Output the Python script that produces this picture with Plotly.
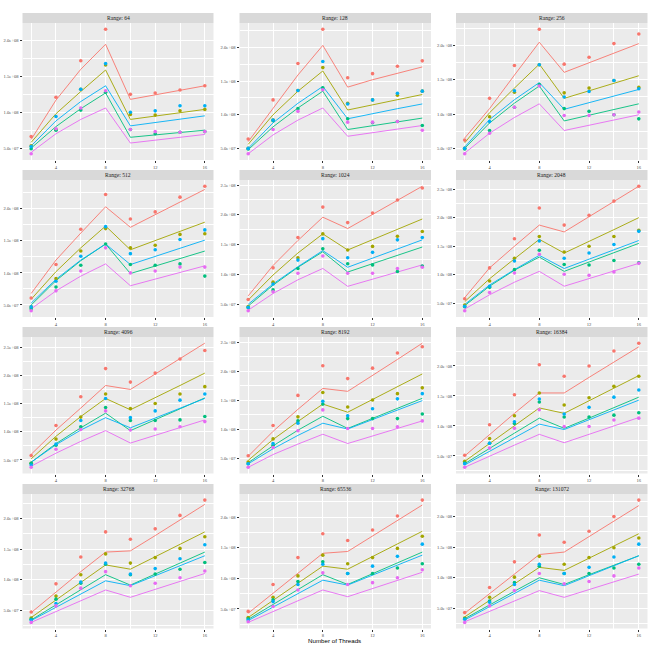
import math
import plotly.graph_objects as go

SCALE = 1e8
threads = [2, 4, 6, 8, 10, 12, 14, 16]
ranges = [64, 128, 256, 512, 1024, 2048, 4096, 8192, 16384, 32768, 65536, 131072]
series_names = ["Series 1", "Series 2", "Series 3", "Series 4", "Series 5"]
colors = ["#F8766D", "#A3A500", "#00BF7D", "#00B0F6", "#E76BF3"]
x_ticks = [4, 8, 12, 16]
x_title = "Number of Threads"

# observed values (units of 1e8), one row per Range panel
obs_red = [
    [0.66, 1.21, 1.72, 2.16, 1.25, 1.27, 1.31, 1.37],
    [0.64, 1.22, 1.76, 2.27, 1.55, 1.61, 1.72, 1.80],
    [0.62, 1.23, 1.71, 2.24, 1.73, 1.83, 2.03, 2.17],
    [0.61, 1.13, 1.68, 2.22, 1.84, 1.95, 2.18, 2.35],
    [0.58, 1.11, 1.62, 2.13, 1.87, 2.03, 2.25, 2.45],
    [0.58, 1.12, 1.63, 2.17, 1.87, 2.04, 2.29, 2.55],
    [0.58, 1.11, 1.62, 2.12, 1.88, 2.04, 2.29, 2.44],
    [0.54, 1.06, 1.58, 2.09, 1.87, 2.05, 2.31, 2.42],
    [0.51, 1.02, 1.52, 2.02, 1.83, 2.00, 2.25, 2.38],
    [0.47, 0.93, 1.37, 1.78, 1.66, 1.83, 2.05, 2.30],
    [0.46, 0.90, 1.34, 1.73, 1.62, 1.79, 2.02, 2.28],
    [0.43, 0.84, 1.26, 1.70, 1.58, 1.76, 2.00, 2.27],
]
obs_olive = [
    [0.53, 0.76, 1.32, 1.66, 0.97, 0.96, 1.02, 1.04],
    [0.50, 0.92, 1.36, 1.70, 1.17, 1.22, 1.29, 1.35],
    [0.50, 0.96, 1.32, 1.72, 1.31, 1.38, 1.49, 1.39],
    [0.47, 0.91, 1.34, 1.69, 1.39, 1.43, 1.60, 1.61],
    [0.46, 0.87, 1.28, 1.68, 1.41, 1.47, 1.64, 1.72],
    [0.47, 0.89, 1.29, 1.67, 1.40, 1.50, 1.67, 1.78],
    [0.44, 0.87, 1.26, 1.67, 1.41, 1.50, 1.67, 1.80],
    [0.43, 0.83, 1.21, 1.63, 1.38, 1.50, 1.61, 1.71],
    [0.41, 0.79, 1.17, 1.55, 1.35, 1.47, 1.66, 1.83],
    [0.37, 0.73, 1.08, 1.42, 1.27, 1.36, 1.51, 1.70],
    [0.36, 0.69, 1.04, 1.38, 1.24, 1.34, 1.49, 1.69],
    [0.34, 0.68, 1.01, 1.35, 1.22, 1.33, 1.49, 1.65],
]
obs_green = [
    [0.49, 0.75, 1.03, 1.28, 0.76, 0.70, 0.72, 0.73],
    [0.49, 0.91, 1.09, 1.40, 0.94, 0.88, 0.90, 0.84],
    [0.49, 0.76, 1.10, 1.43, 1.08, 1.04, 0.99, 0.93],
    [0.44, 0.78, 1.12, 1.45, 1.13, 1.12, 1.14, 0.95],
    [0.44, 0.74, 1.10, 1.43, 1.18, 1.16, 1.05, 1.14],
    [0.44, 0.78, 1.09, 1.43, 1.18, 1.17, 1.25, 1.21],
    [0.44, 0.76, 1.09, 1.43, 1.20, 1.20, 1.21, 1.27],
    [0.40, 0.72, 1.14, 1.43, 1.18, 1.18, 1.18, 1.26],
    [0.38, 0.71, 1.04, 1.40, 1.15, 1.15, 1.18, 1.22],
    [0.35, 0.68, 0.94, 1.25, 1.08, 1.09, 1.17, 1.28],
    [0.34, 0.65, 0.95, 1.27, 1.08, 1.08, 1.17, 1.24],
    [0.33, 0.62, 0.92, 1.19, 1.07, 1.07, 1.16, 1.22],
]
obs_blue = [
    [0.52, 0.94, 1.32, 1.68, 1.00, 1.02, 1.09, 1.09],
    [0.50, 0.92, 1.36, 1.79, 1.16, 1.22, 1.32, 1.35],
    [0.50, 0.89, 1.34, 1.72, 1.25, 1.33, 1.49, 1.37],
    [0.47, 0.87, 1.26, 1.72, 1.30, 1.36, 1.52, 1.67],
    [0.45, 0.84, 1.24, 1.60, 1.28, 1.37, 1.58, 1.62],
    [0.45, 0.80, 1.24, 1.59, 1.29, 1.38, 1.53, 1.76],
    [0.41, 0.78, 1.20, 1.59, 1.25, 1.37, 1.56, 1.67],
    [0.40, 0.75, 1.10, 1.48, 1.23, 1.35, 1.52, 1.61],
    [0.37, 0.71, 1.07, 1.45, 1.20, 1.31, 1.48, 1.60],
    [0.34, 0.61, 0.96, 1.27, 1.09, 1.18, 1.34, 1.57],
    [0.32, 0.62, 0.90, 1.23, 1.08, 1.20, 1.36, 1.56],
    [0.32, 0.60, 0.89, 1.22, 1.07, 1.17, 1.34, 1.55],
]
obs_magenta = [
    [0.42, 0.77, 1.06, 1.30, 0.76, 0.73, 0.72, 0.73],
    [0.42, 0.78, 1.05, 1.37, 0.89, 0.89, 0.90, 0.77],
    [0.42, 0.72, 1.10, 1.41, 0.98, 0.98, 0.99, 1.03],
    [0.41, 0.72, 1.03, 1.39, 1.00, 1.03, 1.09, 1.09],
    [0.39, 0.71, 1.02, 1.31, 1.02, 1.02, 1.10, 1.12],
    [0.37, 0.69, 1.03, 1.36, 1.01, 0.99, 1.05, 1.20],
    [0.37, 0.69, 1.04, 1.37, 1.03, 1.05, 1.09, 1.18],
    [0.34, 0.68, 0.97, 1.33, 1.01, 1.01, 1.04, 1.14],
    [0.31, 0.63, 0.96, 1.27, 0.99, 0.99, 1.10, 1.13],
    [0.30, 0.57, 0.86, 1.13, 0.90, 0.94, 1.03, 1.14],
    [0.29, 0.54, 0.81, 1.09, 0.90, 0.93, 1.01, 1.14],
    [0.27, 0.54, 0.79, 1.07, 0.90, 0.94, 1.03, 1.16],
]

# fitted values (units of 1e8)
fit_red = [
    [0.62, 1.17, 1.60, 1.95, 1.18, 1.24, 1.30, 1.37],
    [0.60, 1.10, 1.59, 2.03, 1.41, 1.52, 1.62, 1.71],
    [0.65, 1.08, 1.57, 2.05, 1.61, 1.75, 1.89, 2.03],
    [0.68, 1.20, 1.62, 2.03, 1.71, 1.91, 2.11, 2.30],
    [0.64, 1.15, 1.57, 1.96, 1.77, 2.01, 2.24, 2.48],
    [0.60, 1.12, 1.50, 1.87, 1.75, 2.02, 2.28, 2.55],
    [0.60, 1.03, 1.42, 1.82, 1.75, 2.02, 2.30, 2.57],
    [0.53, 0.96, 1.34, 1.70, 1.65, 1.92, 2.20, 2.48],
    [0.50, 0.86, 1.21, 1.55, 1.55, 1.81, 2.06, 2.32],
    [0.46, 0.80, 1.13, 1.45, 1.47, 1.72, 1.97, 2.23],
    [0.43, 0.76, 1.09, 1.41, 1.44, 1.69, 1.95, 2.20],
    [0.42, 0.74, 1.06, 1.38, 1.42, 1.67, 1.93, 2.18],
]
fit_olive = [
    [0.58, 0.98, 1.29, 1.59, 0.90, 0.95, 1.00, 1.04],
    [0.56, 1.00, 1.35, 1.65, 1.07, 1.15, 1.22, 1.30],
    [0.58, 1.02, 1.38, 1.73, 1.23, 1.34, 1.45, 1.56],
    [0.59, 1.02, 1.39, 1.73, 1.36, 1.50, 1.65, 1.79],
    [0.57, 0.99, 1.36, 1.68, 1.41, 1.58, 1.76, 1.93],
    [0.53, 0.93, 1.28, 1.62, 1.38, 1.58, 1.79, 2.00],
    [0.52, 0.92, 1.27, 1.59, 1.39, 1.60, 1.82, 2.04],
    [0.46, 0.82, 1.13, 1.43, 1.29, 1.51, 1.73, 1.95],
    [0.41, 0.71, 1.00, 1.30, 1.21, 1.42, 1.63, 1.84],
    [0.38, 0.67, 0.96, 1.24, 1.17, 1.37, 1.58, 1.78],
    [0.36, 0.64, 0.92, 1.20, 1.15, 1.36, 1.56, 1.77],
    [0.36, 0.63, 0.90, 1.17, 1.12, 1.32, 1.52, 1.72],
]
fit_green = [
    [0.50, 0.80, 1.05, 1.27, 0.65, 0.68, 0.72, 0.75],
    [0.48, 0.82, 1.10, 1.35, 0.78, 0.84, 0.89, 0.95],
    [0.50, 0.87, 1.16, 1.41, 0.90, 0.98, 1.07, 1.15],
    [0.50, 0.88, 1.19, 1.45, 0.99, 1.11, 1.23, 1.34],
    [0.47, 0.82, 1.12, 1.38, 1.04, 1.18, 1.32, 1.46],
    [0.46, 0.80, 1.08, 1.31, 1.06, 1.22, 1.38, 1.55],
    [0.46, 0.79, 1.07, 1.33, 1.02, 1.21, 1.40, 1.60],
    [0.42, 0.71, 0.98, 1.22, 1.01, 1.18, 1.35, 1.53],
    [0.37, 0.63, 0.88, 1.13, 0.96, 1.13, 1.31, 1.48],
    [0.34, 0.59, 0.84, 1.08, 0.91, 1.09, 1.27, 1.45],
    [0.33, 0.57, 0.82, 1.06, 0.90, 1.08, 1.25, 1.43],
    [0.33, 0.56, 0.78, 1.00, 0.89, 1.05, 1.20, 1.36],
]
fit_blue = [
    [0.53, 0.88, 1.15, 1.37, 0.81, 0.86, 0.91, 0.95],
    [0.50, 0.88, 1.17, 1.42, 0.94, 1.02, 1.09, 1.16],
    [0.52, 0.92, 1.21, 1.46, 1.07, 1.17, 1.27, 1.36],
    [0.53, 0.90, 1.20, 1.45, 1.13, 1.26, 1.39, 1.51],
    [0.50, 0.84, 1.13, 1.40, 1.12, 1.27, 1.43, 1.58],
    [0.48, 0.82, 1.09, 1.34, 1.11, 1.27, 1.44, 1.60],
    [0.46, 0.77, 1.03, 1.25, 1.07, 1.24, 1.42, 1.59],
    [0.40, 0.66, 0.89, 1.10, 1.00, 1.16, 1.33, 1.49],
    [0.35, 0.58, 0.81, 1.03, 0.94, 1.10, 1.27, 1.43],
    [0.33, 0.55, 0.77, 0.98, 0.90, 1.06, 1.22, 1.39],
    [0.31, 0.53, 0.75, 0.97, 0.89, 1.05, 1.22, 1.38],
    [0.31, 0.53, 0.75, 0.96, 0.87, 1.03, 1.20, 1.36],
]
fit_magenta = [
    [0.44, 0.70, 0.90, 1.06, 0.57, 0.61, 0.65, 0.69],
    [0.42, 0.70, 0.92, 1.10, 0.68, 0.73, 0.79, 0.84],
    [0.43, 0.72, 0.95, 1.15, 0.76, 0.84, 0.91, 0.99],
    [0.44, 0.72, 0.95, 1.14, 0.80, 0.90, 1.01, 1.11],
    [0.40, 0.68, 0.91, 1.10, 0.80, 0.92, 1.04, 1.16],
    [0.40, 0.65, 0.87, 1.06, 0.80, 0.93, 1.07, 1.20],
    [0.39, 0.62, 0.83, 1.02, 0.80, 0.94, 1.08, 1.21],
    [0.34, 0.56, 0.74, 0.91, 0.75, 0.88, 1.01, 1.14],
    [0.31, 0.50, 0.68, 0.86, 0.72, 0.86, 1.00, 1.14],
    [0.30, 0.48, 0.66, 0.83, 0.71, 0.84, 0.97, 1.10],
    [0.28, 0.46, 0.64, 0.81, 0.70, 0.83, 0.97, 1.10],
    [0.28, 0.45, 0.62, 0.79, 0.68, 0.81, 0.93, 1.06],
]

obs_all = [obs_red, obs_olive, obs_green, obs_blue, obs_magenta]
fit_all = [fit_red, fit_olive, fit_green, fit_blue, fit_magenta]

W, H = 650, 645
col_px = [(22.5, 213.5), (239.5, 431.0), (456.0, 647.5)]
row_px = [(23, 160), (180, 317), (337, 473.5), (494, 628.5)]
STRIP_H = 10

fig = go.Figure()
layout = dict(
    width=W, height=H,
    margin=dict(l=0, r=0, t=0, b=0),
    paper_bgcolor="white",
    plot_bgcolor="#EBEBEB",
    showlegend=False,
    shapes=[], annotations=[],
)

tick_font = dict(family="Liberation Serif", size=4.6, color="#4D4D4D")

for p, rng in enumerate(ranges):
    r, c = divmod(p, 3)
    k = p + 1
    xa = "xaxis" if k == 1 else f"xaxis{k}"
    ya = "yaxis" if k == 1 else f"yaxis{k}"
    xref = "x" if k == 1 else f"x{k}"
    yref = "y" if k == 1 else f"y{k}"
    x0p, x1p = col_px[c]
    ytop, ybot = row_px[r]

    vals = []
    for s in range(5):
        vals += [v * SCALE for v in obs_all[s][p]] + [v * SCALE for v in fit_all[s][p]]
    lo, hi = min(vals), max(vals)
    pad = 0.05 * (hi - lo)
    ylo, yhi = lo - pad, hi + pad

    step = 0.5e8
    t = math.ceil(ylo / step) * step
    yt = []
    while t <= yhi:
        yt.append(t)
        t += step
    ymin = []
    m = yt[0] - step / 2
    while m <= yhi:
        if m >= ylo:
            ymin.append(m)
        m += step

    for s in range(5):
        fig.add_trace(go.Scatter(
            x=threads, y=[v * SCALE for v in fit_all[s][p]], mode="lines",
            line=dict(color=colors[s], width=0.9), name=series_names[s],
            xaxis=xref, yaxis=yref, hoverinfo="skip"))
    for s in range(5):
        fig.add_trace(go.Scatter(
            x=threads, y=[v * SCALE for v in obs_all[s][p]], mode="markers",
            marker=dict(color=colors[s], size=3.6), name=series_names[s],
            xaxis=xref, yaxis=yref))

    layout[xa] = dict(
        domain=[x0p / W, x1p / W], anchor=yref, range=[1.3, 16.7],
        tickmode="array", tickvals=x_ticks, ticktext=[str(v) for v in x_ticks],
        ticks="outside", ticklen=2, tickwidth=0.6, tickcolor="#333333",
        tickfont=tick_font, showgrid=True, gridcolor="white", gridwidth=0.9,
        zeroline=False, showline=False,
        minor=dict(tickmode="array", tickvals=[2, 6, 10, 14], showgrid=True,
                   gridcolor="white", gridwidth=0.45, ticks=""),
    )
    layout[ya] = dict(
        domain=[1 - ybot / H, 1 - ytop / H], anchor=xref, range=[ylo, yhi],
        tickmode="array", tickvals=yt, ticktext=[f"{v:.1e}" for v in yt],
        ticks="outside", ticklen=2, tickwidth=0.6, tickcolor="#333333",
        tickfont=tick_font, showgrid=True, gridcolor="white", gridwidth=0.9,
        zeroline=False, showline=False,
        minor=dict(tickmode="array", tickvals=ymin, showgrid=True,
                   gridcolor="white", gridwidth=0.45, ticks=""),
    )

    layout["shapes"].append(dict(
        type="rect", xref="paper", yref="paper",
        x0=x0p / W, x1=x1p / W, y0=1 - ytop / H, y1=1 - (ytop - STRIP_H) / H,
        fillcolor="#D9D9D9", line=dict(width=0), layer="below"))
    layout["annotations"].append(dict(
        x=(x0p + x1p) / 2 / W, y=1 - (ytop - STRIP_H / 2) / H,
        xref="paper", yref="paper", showarrow=False,
        text=f"Range: {rng}", xanchor="center", yanchor="middle",
        font=dict(family="Liberation Serif", size=5.6, color="#1A1A1A")))

layout["annotations"].append(dict(
    x=(col_px[0][0] + col_px[2][1]) / 2 / W, y=1 - 645.5 / H,
    xref="paper", yref="paper", showarrow=False, text=x_title,
    xanchor="center", yanchor="bottom",
    font=dict(family="Liberation Sans", size=6.2, color="black")))

fig.update_layout(**layout)
fig.write_html("out.html")
